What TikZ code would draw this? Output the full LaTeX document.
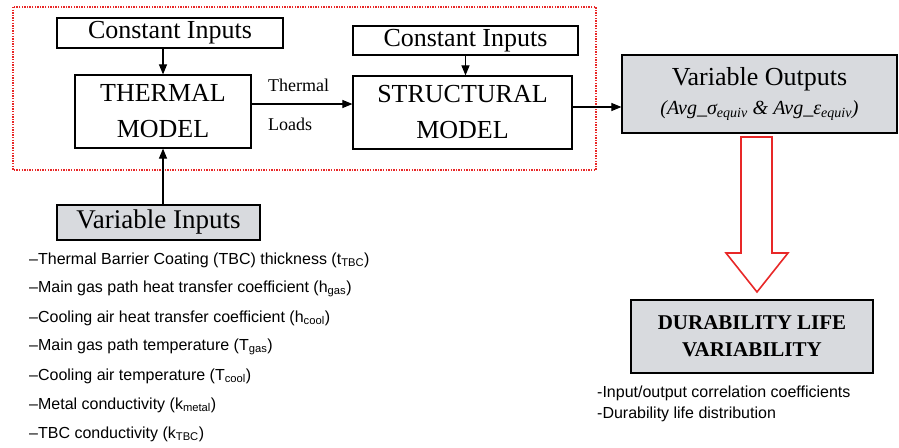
\documentclass[tikz,border=0pt]{standalone}
\usepackage{fontspec}
\setmainfont{Liberation Serif}
\newfontfamily\arialfont{Liberation Sans}
\usetikzlibrary{arrows.meta}
\definecolor{boxgray}{RGB}{216,218,222}
\definecolor{frame red}{RGB}{232,40,40}
\tikzset{
  plainbox/.style={draw=black, line width=1.2pt, inner sep=0pt, align=center,
    font=\fontsize{26}{30}\selectfont},
  graybox/.style={plainbox, fill=boxgray},
  flow/.style={-{Triangle[length=10pt,width=8pt]}, line width=1.1pt},
  listitem/.style={anchor=west, inner sep=0pt, font=\arialfont\fontsize{16}{18}\selectfont},
  edgelabel/.style={anchor=west, inner sep=0pt, font=\fontsize{18}{20}\selectfont}
}
\begin{document}
\begin{tikzpicture}[x=1pt, y=-1pt]
\useasboundingbox (0,0) rectangle (899,447);

% dotted frame round the two models
\draw[frame red, line width=1.8pt, dash pattern=on 1.4pt off 1.2pt] (13,7) rectangle (596,170);

% boxes
\node[plainbox, minimum width=226pt, minimum height=30pt] (const1) at (170,33) {Constant Inputs};
\node[plainbox, minimum width=176pt, minimum height=73pt] (thermal) at (163,111.5) {THERMAL\\[6pt]MODEL};
\node[plainbox, minimum width=225pt, minimum height=29pt] (const2) at (465.5,40.5) {Constant Inputs};
\node[plainbox, minimum width=219pt, minimum height=73pt] (struct) at (462.5,112.5) {STRUCTURAL\\[6pt]MODEL};
\node[graybox, minimum width=275pt, minimum height=78pt] (varout) at (759.5,94)
  {Variable Outputs\\[-1pt]{\fontsize{20}{24}\selectfont\itshape (Avg\_σ\textsubscript{equiv} \& Avg\_ε\textsubscript{equiv})}};
\node[graybox, minimum width=203pt, minimum height=35pt, font=\fontsize{27}{30}\selectfont] (varin) at (158.5,222.5) {Variable Inputs};
\node[graybox, minimum width=242pt, minimum height=73pt, font=\bfseries\fontsize{21}{27}\selectfont] (durab) at (752,336.5)
  {DURABILITY LIFE\\VARIABILITY};

% connectors
\draw[flow] (thermal.north |- const1.south) -- (thermal.north);
\draw[flow] (const2.south) -- (const2.south |- struct.north);
\draw[flow] ([yshift=7.5pt]thermal.east) -- ([yshift=8.5pt]struct.west);
\draw[flow] ([yshift=5.5pt]struct.east) -- ([yshift=-13pt]varout.west);
\draw[flow] (thermal.south |- varin.north) -- (thermal.south);

\node[edgelabel] (lblthermal) at (268,85) {Thermal};
\node[edgelabel] (lblloads) at (268,124) {Loads};

% hollow red arrow from outputs to durability
\draw[frame red, line width=1.6pt, fill=white, line join=miter]
  (741,137) -- (772,137) -- (772,253) -- (788,253) -- (757,292) -- (726,253) -- (741,253) -- cycle;

% list of variable inputs
\node[listitem] (in1) at (29,260) {–Thermal Barrier Coating (TBC) thickness (t\textsubscript{TBC})};
\node[listitem] (in2) at (29,289) {–Main gas path heat transfer coefficient (h\textsubscript{gas})};
\node[listitem] (in3) at (29,318) {–Cooling air heat transfer coefficient (h\textsubscript{cool})};
\node[listitem] (in4) at (29,347) {–Main gas path temperature (T\textsubscript{gas})};
\node[listitem] (in5) at (29,376) {–Cooling air temperature (T\textsubscript{cool})};
\node[listitem] (in6) at (29,405) {–Metal conductivity (k\textsubscript{metal})};
\node[listitem] (in7) at (29,434) {–TBC conductivity (k\textsubscript{TBC})};

% results
\node[listitem] (out1) at (597,393) {-Input/output correlation coefficients};
\node[listitem] (out2) at (597,414) {-Durability life distribution};
\end{tikzpicture}
\end{document}
